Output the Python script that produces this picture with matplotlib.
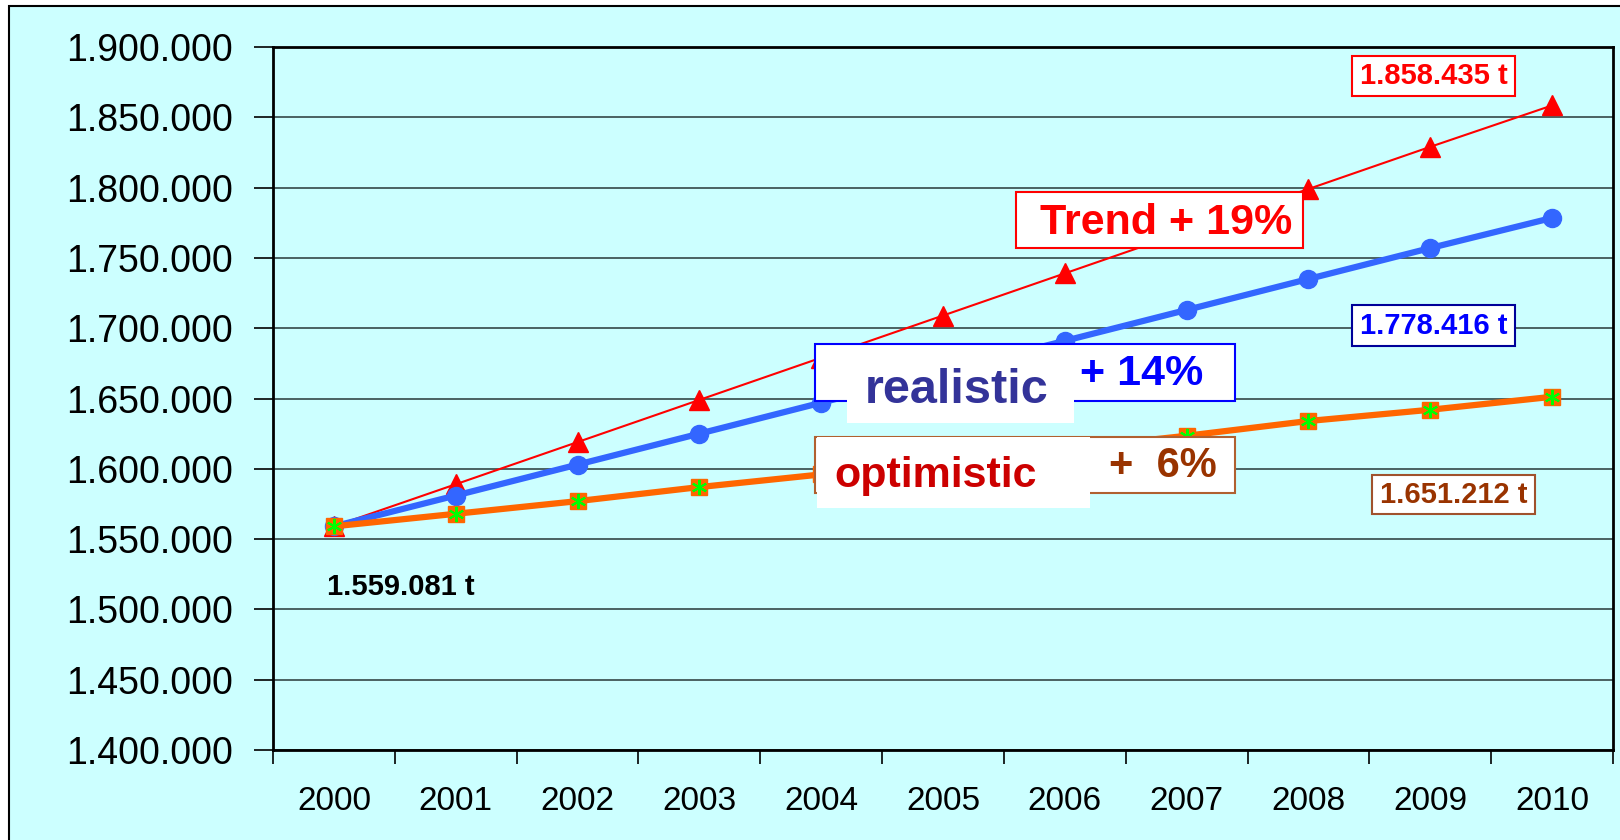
# Tonnage forecast 2000-2010: trend / realistic / optimistic scenarios
import matplotlib
matplotlib.use("Agg")
import matplotlib.pyplot as plt
from matplotlib.patches import Rectangle
from matplotlib.ticker import FuncFormatter

plt.rcParams['font.family'] = ['Liberation Sans', 'DejaVu Sans']

# Data (tonnes)
years = ['2000', '2001', '2002', '2003', '2004', '2005',
         '2006', '2007', '2008', '2009', '2010']
trend = [1559081, 1589000, 1619000, 1649000, 1679000, 1709000,
         1739000, 1769000, 1799000, 1829000, 1858435]
realistic = [1559081, 1581000, 1603000, 1625000, 1647000, 1669000,
             1691000, 1713000, 1735000, 1757000, 1778416]
optimistic = [1559081, 1568000, 1577000, 1587000, 1596000, 1605000,
              1614000, 1623500, 1634000, 1642000, 1651212]

W, H = 1620, 840
BG = '#CCFFFF'


def px(x, y):
    # pixel (top-left origin) -> figure fraction
    return x / W, 1 - y / H


def box(fig, x0, y0, x1, y1, edge, lw=1.5, z=10):
    fx0, fy1 = px(x0, y1)
    fx1, fy0 = px(x1, y0)
    r = Rectangle((fx0, fy1), fx1 - fx0, fy0 - fy1, transform=fig.transFigure,
                  facecolor='white', edgecolor=edge, linewidth=lw, zorder=z)
    fig.add_artist(r)


def label(fig, x, y, s, color, size, ha='center', va='center', z=12):
    fx, fy = px(x, y)
    fig.text(fx, fy, s, color=color, fontsize=size, fontweight='bold',
             ha=ha, va=va, zorder=z)


fig = plt.figure(figsize=(W / 100, H / 100), dpi=100, facecolor='white')

# cyan panel with black frame (left/top edge visible)
x0, y0 = px(9, 6)
fig.add_artist(Rectangle((x0, -0.05), 1.2, y0 + 0.05, transform=fig.transFigure,
                         facecolor=BG, edgecolor='black', linewidth=1.5, zorder=0))

l, b = px(273, 750)
r_, t = px(1613, 47)
ax = fig.add_axes([l, b, r_ - l, t - b])
ax.set_facecolor(BG)

xs = list(range(len(years)))
ax.plot(xs, trend, color='#FF0000', lw=1.5, marker='^', ms=14,
        mfc='#FF0000', mec='#FF0000', zorder=3)
ax.plot(xs, realistic, color='#3366FF', lw=4.5, marker='o', ms=13,
        mfc='#3366FF', mec='#3366FF', zorder=4)
ax.plot(xs, optimistic, color='#FF6600', lw=4.5, marker='s', ms=12,
        mfc='#FF6600', mec='#FF6600', zorder=5)
ax.plot(xs, optimistic, ls='none', marker=(6, 2, 0), ms=11,
        mec='#00FF00', mew=1.5, zorder=6)

ax.set_xlim(-0.5, 10.5)
ax.set_ylim(1400000, 1900000)
ax.set_yticks(range(1400000, 1900001, 50000))
ax.yaxis.set_major_formatter(FuncFormatter(lambda v, p: f'{int(v):,}'.replace(',', '.')))
ax.grid(axis='y', color='#405555', lw=1.3, zorder=1)

# category axis: ticks between categories, labels centered
ax.set_xticks([i - 0.5 for i in range(len(years) + 1)])
ax.set_xticklabels([])
ax.set_xticks(xs, minor=True)
ax.set_xticklabels(years, minor=True, fontsize=24)
ax.tick_params(axis='x', which='major', direction='out', length=10, width=1.2)
ax.tick_params(axis='x', which='minor', length=0, pad=26)
ax.tick_params(axis='y', direction='out', length=14, width=1.2,
               labelsize=27, pad=15)
for s in ax.spines.values():
    s.set_linewidth(2)
    s.set_color('black')

# scenario boxes
box(fig, 1016, 192, 1303, 248, '#FF0000')
label(fig, 1166, 234, 'Trend + 19%', '#FF0000', 31, va='baseline')

box(fig, 815, 344, 1235, 401, '#0000FF')
box(fig, 847, 346, 1074, 423, 'white', lw=0, z=11)
label(fig, 957, 403, 'realistic', '#333399', 35, va='baseline')
label(fig, 1142, 385, '+ 14%', '#0000FF', 31, va='baseline')

box(fig, 815, 437, 1235, 493, '#B06030')
box(fig, 817, 437, 1090, 508, 'white', lw=0, z=11)
label(fig, 936, 487, 'optimistic', '#CC0000', 31, va='baseline')
label(fig, 1163, 477, '+  6%', '#993300', 30, va='baseline')

# end value labels
box(fig, 1352, 56, 1515, 96, '#FF0000')
label(fig, 1434, 76, '1.858.435 t', '#FF0000', 21)
box(fig, 1352, 305, 1515, 346, '#000099')
label(fig, 1434, 326, '1.778.416 t', '#0000FF', 21)
box(fig, 1372, 475, 1535, 514, '#A0522D')
label(fig, 1454, 495, '1.651.212 t', '#993300', 21)
label(fig, 401, 587, '1.559.081 t', 'black', 21)

fig.savefig('out.png', dpi=100, facecolor=fig.get_facecolor())
